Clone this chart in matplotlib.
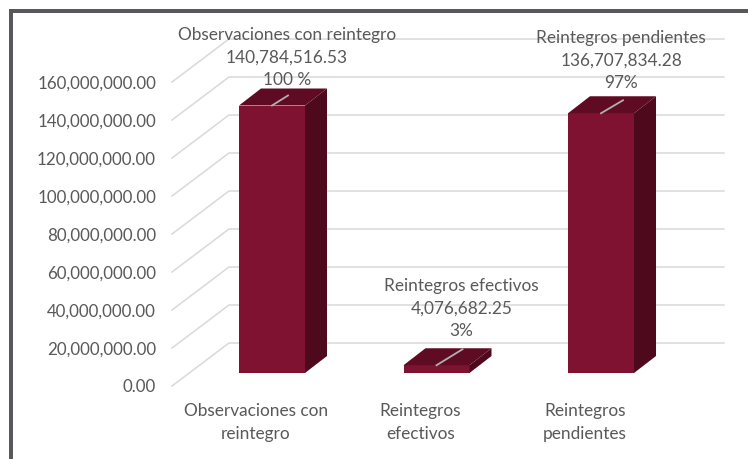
"""Reintegros: pseudo-3D column chart, drawn on a plain 2D axes."""
import matplotlib
matplotlib.use("Agg")
import matplotlib.pyplot as plt
from matplotlib.patches import Polygon, Rectangle

W, H = 748, 459

categories = ["Observaciones con\nreintegro", "Reintegros\nefectivos", "Reintegros\npendientes"]
label_names = ["Observaciones con reintegro", "Reintegros efectivos", "Reintegros pendientes"]
values = [140784516.53, 4076682.25, 136707834.28]
percents = ["100 %", "3%", "97%"]
ticks = [0, 20e6, 40e6, 60e6, 80e6, 100e6, 120e6, 140e6, 160e6]

# pixel offsets from the top of each bar
label_dx = [15, 25, 20]
label_dy = [48, 57, 53]
leader_dx = [16, 26, 22]
leader_dy = [10, 16, 13]

FRONT = "#7E1230"
SIDE = "#4E0A1C"
TOP = "#5F0B24"
GRID = "#D9D9D9"
TEXT = "#595959"
BORDER = "#58585C"
FS = 12.2
FS_LABEL = 12.45
SPACE = 1.5

plt.rcParams["font.family"] = ["Lato", "DejaVu Sans"]

fig = plt.figure(figsize=(W / 100, H / 100), dpi=100)
ax = fig.add_axes([172 / W, (H - 386) / H, 552 / W, 304 / H])
SPACING = 164.5
ax.set_xlim((172 - 256) / SPACING, (724 - 256) / SPACING)
ax.set_ylim(0, 160e6)
x0, x1 = ax.get_xlim()


def px(n):
    return n / SPACING


def py(n):
    return n * 160e6 / 304


# back wall and floor grid lines
for t in ticks:
    ax.plot([x0, x0 + px(57), x1], [t, t + py(43), t + py(43)],
            color=GRID, lw=1.1, clip_on=False, zorder=1, solid_joinstyle="miter")

# bars: front from the library, side and top faces from the same values
base = py(13)
bar_w = px(66)
dep_x, dep_y = px(22), py(17)
for i, v in enumerate(values):
    xc = i + px(16)
    l, r = xc - bar_w / 2, xc + bar_w / 2
    top = base + v
    ax.bar(xc, v, width=bar_w, bottom=base, color=FRONT, clip_on=False, zorder=3)
    ax.add_patch(Polygon([(r, base), (r + dep_x, base + dep_y), (r + dep_x, top + dep_y), (r, top)],
                         facecolor=SIDE, clip_on=False, zorder=3))
    ax.add_patch(Polygon([(l, top), (l + dep_x, top + dep_y), (r + dep_x, top + dep_y), (r, top)],
                         facecolor=TOP, clip_on=False, zorder=3))
    ax.plot([xc, xc + px(leader_dx[i])], [top, top + py(leader_dy[i])],
            color="#B0B0B0", lw=1.3, clip_on=False, zorder=4)
    ax.annotate(f"{label_names[i]}\n{v:,.2f}\n{percents[i]}", xy=(xc, top),
                xytext=(label_dx[i], label_dy[i]), textcoords="offset pixels",
                ha="center", va="center", fontsize=FS_LABEL, color=TEXT,
                linespacing=SPACE, zorder=5, annotation_clip=False)

ax.set_yticks(ticks, [f"{t:,.2f}" for t in ticks])
ax.set_xticks(range(3), categories)
ax.tick_params(axis="y", length=0, pad=11.5, labelsize=FS, labelcolor=TEXT)
ax.tick_params(axis="x", length=0, pad=12.5, labelsize=FS_LABEL, labelcolor=TEXT)
for lab in ax.get_xticklabels():
    lab.set_linespacing(SPACE)
for s in ax.spines.values():
    s.set_visible(False)
ax.patch.set_visible(False)

# picture frame, left and top only
fig.add_artist(Rectangle((9 / W, 0), 4 / W, (H - 9) / H, transform=fig.transFigure, color=BORDER, lw=0))
fig.add_artist(Rectangle((9 / W, (H - 13) / H), (W - 9) / W, 4 / H, transform=fig.transFigure, color=BORDER, lw=0))

fig.savefig("out.png", dpi=100)
